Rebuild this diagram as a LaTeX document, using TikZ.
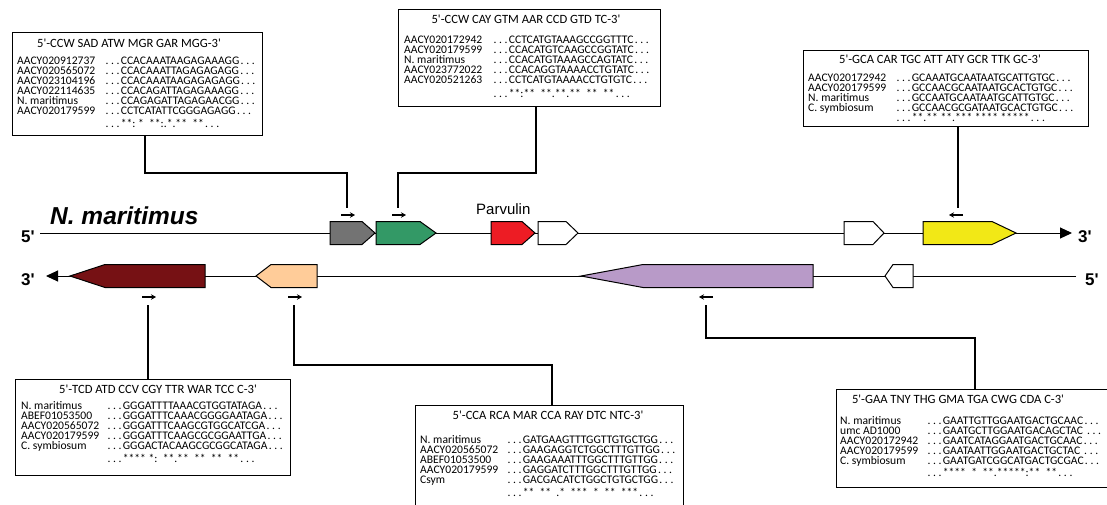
\documentclass[tikz,border=0pt]{standalone}
\usepackage{fontspec}
\setmainfont{Carlito}
\newfontfamily\arialf{Liberation Sans}
\usetikzlibrary{arrows.meta,calc}
\newcommand{\q}{\textquotesingle}
\newcommand{\dt}{\makebox[0.48em][c]{.}}
\newcommand{\dd}{\dt\dt\dt}
\begin{document}
\begin{tikzpicture}[x=1pt,y=-1pt,
  seqbox/.style={draw, line width=1.2pt, anchor=north west, inner sep=0pt},
  rowtxt/.style={anchor=base west, inner sep=0pt, font=\fontsize{11.6}{10}\selectfont},
  ttltxt/.style={anchor=base, inner sep=0pt, font=\fontsize{12.6}{12}\selectfont},
  gene/.style={draw, line width=1pt},
  conn/.style={line width=1.3pt},
  dirarr/.style={line width=1.1pt, -{Stealth[length=5pt,width=5.5pt]}},
  strand/.style={line width=1pt},
  endlbl/.style={inner sep=0pt, anchor=base west, font=\arialf\bfseries\fontsize{17}{17}\selectfont}
]
\useasboundingbox (0,0) rectangle (1107,504);
\fill[white] (0,0) rectangle (1107,504);

% ---------- strands ----------
\coordinate (t0) at (40,233);
\coordinate (t1) at (1072,233);
\coordinate (b0) at (1076,276);
\coordinate (b1) at (46,276);
\draw[strand, -{Triangle[length=12pt,width=11pt]}] (t0) -- (t1);
\draw[strand, -{Triangle[length=12pt,width=11pt]}] (b0) -- (b1);
\node[endlbl] (l5a) at (21,242) {5\q};
\node[endlbl] (l3a) at (1078,242) {3\q};
\node[endlbl] (l3b) at (21,285) {3\q};
\node[endlbl] (l5b) at (1085,285) {5\q};
\node[inner sep=0pt, anchor=base west, font=\arialf\bfseries\itshape\fontsize{24.5}{24.5}\selectfont] (nm) at (50,224) {N. maritimus};
\node[inner sep=0pt, anchor=base west, font=\arialf\fontsize{15}{15}\selectfont] (parv) at (476,214) {Parvulin};

% ---------- genes, top strand (pointing right) ----------
\def\yt{221.5}\def\yb{244.5}\def\ym{233}
\draw[gene, fill={rgb,255:red,115;green,115;blue,115}] (330,\yt) -- (362,\yt) -- (375,\ym) -- (362,\yb) -- (330,\yb) -- cycle;
\draw[gene, fill={rgb,255:red,51;green,153;blue,102}] (376,\yt) -- (420,\yt) -- (436,\ym) -- (420,\yb) -- (376,\yb) -- cycle;
\draw[gene, fill={rgb,255:red,237;green,28;blue,36}] (491,\yt) -- (522,\yt) -- (535,\ym) -- (522,\yb) -- (491,\yb) -- cycle;
\draw[gene, fill=white] (538,\yt) -- (566,\yt) -- (578,\ym) -- (566,\yb) -- (538,\yb) -- cycle;
\draw[gene, fill=white] (844,\yt) -- (873,\yt) -- (884,\ym) -- (873,\yb) -- (844,\yb) -- cycle;
\draw[gene, fill={rgb,255:red,242;green,232;blue,22}] (923,\yt) -- (992,\yt) -- (1016,\ym) -- (992,\yb) -- (923,\yb) -- cycle;

% ---------- genes, bottom strand (pointing left) ----------
\def\ybt{264.5}\def\ybb{287.5}\def\ybm{276}
\draw[gene, fill={rgb,255:red,118;green,17;blue,20}] (205,\ybt) -- (105,\ybt) -- (70,\ybm) -- (105,\ybb) -- (205,\ybb) -- cycle;
\draw[gene, fill={rgb,255:red,255;green,204;blue,153}] (317,\ybt) -- (271,\ybt) -- (256,\ybm) -- (271,\ybb) -- (317,\ybb) -- cycle;
\draw[gene, fill={rgb,255:red,184;green,154;blue,200}] (813,\ybt) -- (643,\ybt) -- (581,\ybm) -- (643,\ybb) -- (813,\ybb) -- cycle;
\draw[gene, fill=white] (913,\ybt) -- (893,\ybt) -- (885,\ybm) -- (893,\ybb) -- (913,\ybb) -- cycle;

% ---------- small primer direction arrows ----------
\draw[dirarr] (341,215) -- (355,215);
\draw[dirarr] (392,215) -- (406,215);
\draw[dirarr] (963,215) -- (949,215);
\draw[dirarr] (142,297) -- (156,297);
\draw[dirarr] (288,297) -- (302,297);
\draw[dirarr] (713,297) -- (699,297);

% ---------- box 1 ----------
\node[seqbox, minimum width=250pt, minimum height=103pt] (box1) at (12,32) {};
\node[ttltxt] (t1ttl) at (129,47.5) {5\q-CCW SAD ATW MGR GAR MGG-3\q};
\foreach \n/\s [count=\i] in {AACY020912737/\dd CCACAAATAAGAGAAAGG\dd,AACY020565072/\dd CCACAAATTAGAGAGAGG\dd,AACY023104196/\dd CCACAAATAAGAGAGAGG\dd,AACY022114635/\dd CCACAGATTAGAGAAAGG\dd,N. maritimus/\dd CCAGAGATTAGAGAACGG\dd,AACY020179599/\dd CCTCATATTCGGGAGAGG\dd}{
  \node[rowtxt] (b1n\i) at (17,{54.5+10*\i}) {\n};
  \node[rowtxt] (b1s\i) at (104,{54.5+10*\i}) {\s};
}
\node[rowtxt] (b1c) at (104,127) {\dd**:~*~~**:.*.**~~**\dd};

% ---------- box 2 ----------
\node[seqbox, minimum width=262pt, minimum height=97pt] (box2) at (398,9) {};
\node[ttltxt] (t2ttl) at (526,23) {5\q-CCW CAY GTM AAR CCD GTD TC-3\q};
\foreach \n/\s [count=\i] in {AACY020172942/\dd CCTCATGTAAAGCCGGTTTC\dd,AACY020179599/\dd CCACATGTCAAGCCGGTATC\dd,N. maritimus/\dd CCACATGTAAAGCCAGTATC\dd,AACY023772022/\dd CCACAGGTAAAACCTGTATC\dd,AACY020521263/\dd CCTCATGTAAAACCTGTGTC\dd}{
  \node[rowtxt] (b2n\i) at (404,{33+10*\i}) {\n};
  \node[rowtxt] (b2s\i) at (492,{33+10*\i}) {\s};
}
\node[rowtxt] (b2c) at (492,97) {\dd**:**~~**.**.**~~**~~**\dd};

% ---------- box 3 ----------
\node[seqbox, minimum width=285pt, minimum height=76pt] (box3) at (803,50) {};
\node[ttltxt] (t3ttl) at (940,63) {5\q-GCA CAR TGC ATT ATY GCR TTK GC-3\q};
\foreach \n/\s [count=\i] in {AACY020172942/\dd GCAAATGCAATAATGCATTGTGC\dd,AACY020179599/\dd GCCAACGCAATAATGCACTGTGC\dd,N. maritimus/\dd GCCAATGCAATAATGCATTGTGC\dd,C. symbiosum/\dd GCCAACGCGATAATGCACTGTGC\dd}{
  \node[rowtxt] (b3n\i) at (808,{71.5+10*\i}) {\n};
  \node[rowtxt] (b3s\i) at (895,{71.5+10*\i}) {\s};
}
\node[rowtxt] (b3c) at (895,121) {\dd**.**~**.***~****~*****\dd};

% ---------- box 4 ----------
\node[seqbox, minimum width=275pt, minimum height=96pt] (box4) at (15,379) {};
\node[ttltxt] (t4ttl) at (158,393) {5\q-TCD ATD CCV CGY TTR WAR TCC C-3\q};
\foreach \n/\s [count=\i] in {N. maritimus/\dd GGGATTTTAAACGTGGTATAGA\dd,ABEF01053500/\dd GGGATTTCAAACGGGGAATAGA\dd,AACY020565072/\dd GGGATTTCAAGCGTGGCATCGA\dd,AACY020179599/\dd GGGATTTCAAGCGCGGAATTGA\dd,C. symbiosum/\dd GGGACTACAAGCGCGGCATAGA\dd}{
  \node[rowtxt] (b4n\i) at (21,{399.5+10*\i}) {\n};
  \node[rowtxt] (b4s\i) at (106,{399.5+10*\i}) {\s};
}
\node[rowtxt] (b4c) at (106,462) {\dd****~*:~~**.**~~**~~**~~**\dd};

% ---------- box 5 ----------
\node[seqbox, minimum width=268pt, minimum height=110pt] (box5) at (415,405) {};
\node[ttltxt] (t5ttl) at (548,419) {5\q-CCA RCA MAR CCA RAY DTC NTC-3\q};
\foreach \n/\s [count=\i] in {N. maritimus/\dd GATGAAGTTTGGTTGTGCTGG\dd,AACY020565072/\dd GAAGAGGTCTGGCTTTGTTGG\dd,ABEF01053500/\dd GAAGAAATTTGGCTTTGTTGG\dd,AACY020179599/\dd GAGGATCTTTGGCTTTGTTGG\dd,Csym/\dd GACGACATCTGGCTGTGCTGG\dd}{
  \node[rowtxt] (b5n\i) at (420,{433.5+10*\i}) {\n};
  \node[rowtxt] (b5s\i) at (506,{433.5+10*\i}) {\s};
}
\node[rowtxt] (b5c) at (506,496) {\dd**~~**~~.*~~***~~*~~**~~***\dd};

% ---------- box 6 ----------
\node[seqbox, minimum width=275pt, minimum height=98pt] (box6) at (836,389) {};
\node[ttltxt] (t6ttl) at (958,403) {5\q-GAA TNY THG GMA TGA CWG CDA C-3\q};
\foreach \n/\s [count=\i] in {N. maritimus/\dd GAATTGTTGGAATGACTGCAAC\dd,umc AD1000/\dd GAATGCTTGGAATGACAGCTAC~\dd,AACY020172942/\dd GAATCATAGGAATGACTGCAAC\dd,AACY020179599/\dd GAATAATTGGAATGACTGCTAC~\dd,C. symbiosum/\dd GAATGATCGGCATGACTGCGAC\dd}{
  \node[rowtxt] (b6n\i) at (840,{414.5+10*\i}) {\n};
  \node[rowtxt] (b6s\i) at (926,{414.5+10*\i}) {\s};
}
\node[rowtxt] (b6c) at (926,476) {\dd****~~*~~**.*****:**~~**\dd};

% ---------- connectors ----------
\coordinate (k1) at (145,0);   \coordinate (m1) at (347,173); \coordinate (e1) at (347,208);
\draw[conn] (box1.south -| k1) |- (m1) -- (e1);
\coordinate (k2) at (536,0);   \coordinate (m2) at (398,173); \coordinate (e2) at (398,208);
\draw[conn] (box2.south -| k2) |- (m2) -- (e2);
\coordinate (k3) at (958,0);   \coordinate (e3) at (958,208);
\draw[conn] (box3.south -| k3) -- (e3);
\coordinate (k4) at (148,0);   \coordinate (e4) at (148,305);
\draw[conn] (box4.north -| k4) -- (e4);
\coordinate (k5) at (552,0);   \coordinate (m5) at (294,365); \coordinate (e5) at (294,305);
\draw[conn] (box5.north -| k5) |- (m5) -- (e5);
\coordinate (k6) at (975,0);   \coordinate (m6) at (706,338); \coordinate (e6) at (706,305);
\draw[conn] (box6.north -| k6) |- (m6) -- (e6);
\end{tikzpicture}
\end{document}
